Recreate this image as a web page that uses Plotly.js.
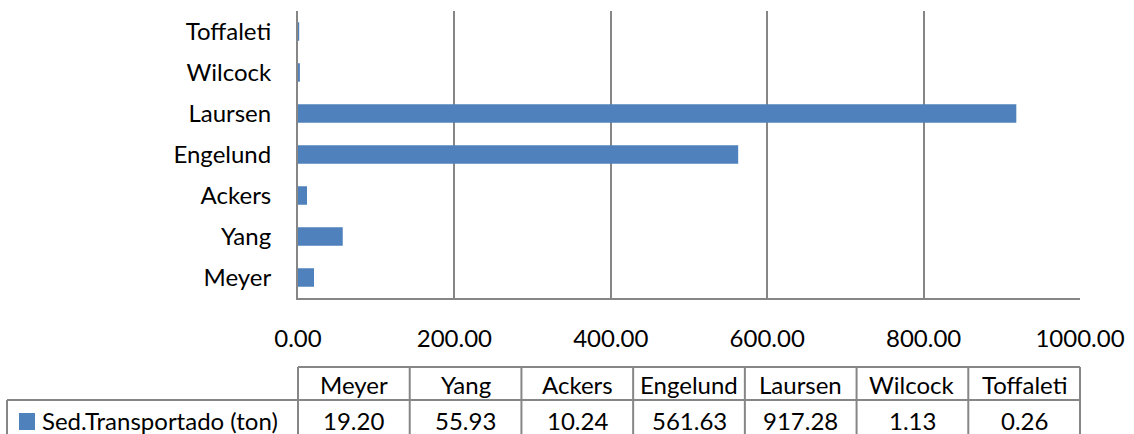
<!DOCTYPE html>
<html>
<head>
<meta charset="utf-8">
<script src="https://cdn.plot.ly/plotly-3.0.1.min.js"></script>
<style>html,body{margin:0;padding:0;background:#fff;}#chart{width:1134px;height:434px;}</style>
</head>
<body>
<div id="chart"></div>
<script>
// ---- Data ----
const categories = ['Meyer', 'Yang', 'Ackers', 'Engelund', 'Laursen', 'Wilcock', 'Toffaleti'];
const values = [19.20, 55.93, 10.24, 561.63, 917.28, 1.13, 0.26];
const seriesName = 'Sed.Transportado (ton)';
const xTickVals = [0, 200, 400, 600, 800, 1000];

// ---- Layout constants (pixels) ----
const W = 1134, H = 434;
const M = {l: 298, r: 54, t: 11, b: 136};
const plotW = W - M.l - M.r, plotH = H - M.t - M.b;
const px = x => (x - M.l) / plotW;          // pixel x -> paper x
const py = y => (M.t + plotH - y) / plotH;  // pixel y -> paper y

const FONT = 'Lato, "Open Sans", sans-serif';
const FS = 24;
const barColor = '#4F81BD';
const lineColor = '#868686';

const trace = {
  type: 'bar',
  orientation: 'h',
  y: categories,
  x: values,
  name: seriesName,
  marker: {color: barColor, line: {color: barColor, width: 2}},
  hoverinfo: 'skip'
};

// ---- Data table under the chart ----
const shapes = [];
const annotations = [];
const tblTop = 367, tblMid = 400, tblBot = 445, tblLeft = 7;
const colW = plotW / categories.length;
const line = {color: lineColor, width: 2};
shapes.push({type: 'line', xref: 'paper', yref: 'paper', x0: px(M.l), x1: px(M.l + plotW), y0: py(tblTop), y1: py(tblTop), line});
shapes.push({type: 'line', xref: 'paper', yref: 'paper', x0: px(tblLeft), x1: px(M.l + plotW), y0: py(tblMid), y1: py(tblMid), line});
shapes.push({type: 'line', xref: 'paper', yref: 'paper', x0: px(tblLeft), x1: px(tblLeft), y0: py(tblMid), y1: py(tblBot), line});
for (let i = 0; i <= categories.length; i++) {
  const xx = M.l + i * colW;
  shapes.push({type: 'line', xref: 'paper', yref: 'paper', x0: px(xx), x1: px(xx), y0: py(tblTop), y1: py(tblBot), line});
}
categories.forEach((c, i) => {
  const cx = px(M.l + (i + 0.5) * colW);
  annotations.push({xref: 'paper', yref: 'paper', x: cx, y: py(384), text: c, showarrow: false,
    xanchor: 'center', yanchor: 'middle', font: {family: FONT, size: FS, color: '#000'}});
  annotations.push({xref: 'paper', yref: 'paper', x: cx, y: py(420), text: values[i].toFixed(2), showarrow: false,
    xanchor: 'center', yanchor: 'middle', font: {family: FONT, size: FS, color: '#000'}});
});
// legend key + series name
shapes.push({type: 'rect', xref: 'paper', yref: 'paper', x0: px(19), x1: px(35), y0: py(430), y1: py(413),
  fillcolor: barColor, line: {width: 0}});
annotations.push({xref: 'paper', yref: 'paper', x: px(40), y: py(420), text: seriesName, showarrow: false,
  xanchor: 'left', yanchor: 'middle', font: {family: FONT, size: FS, color: '#000'}});

const layout = {
  width: W, height: H,
  margin: M,
  paper_bgcolor: '#fff', plot_bgcolor: '#fff',
  showlegend: false,
  bargap: 0.6,
  font: {family: FONT, size: FS, color: '#000'},
  xaxis: {
    range: [0, 1000], tickvals: xTickVals, tickformat: '.2f',
    showgrid: true, gridcolor: lineColor, gridwidth: 2,
    showline: true, linecolor: lineColor, linewidth: 2,
    ticks: '', ticklabelstandoff: 18, zeroline: false,
    tickfont: {family: FONT, size: FS, color: '#000'}, fixedrange: true
  },
  yaxis: {
    categoryorder: 'array', categoryarray: categories,
    showgrid: false, showline: true, linecolor: lineColor, linewidth: 2,
    ticks: '', ticklabelstandoff: 20,
    tickfont: {family: FONT, size: FS, color: '#000'}, fixedrange: true
  },
  shapes, annotations
};

Plotly.newPlot('chart', [trace], layout, {displayModeBar: false, staticPlot: true});
</script>
</body>
</html>
